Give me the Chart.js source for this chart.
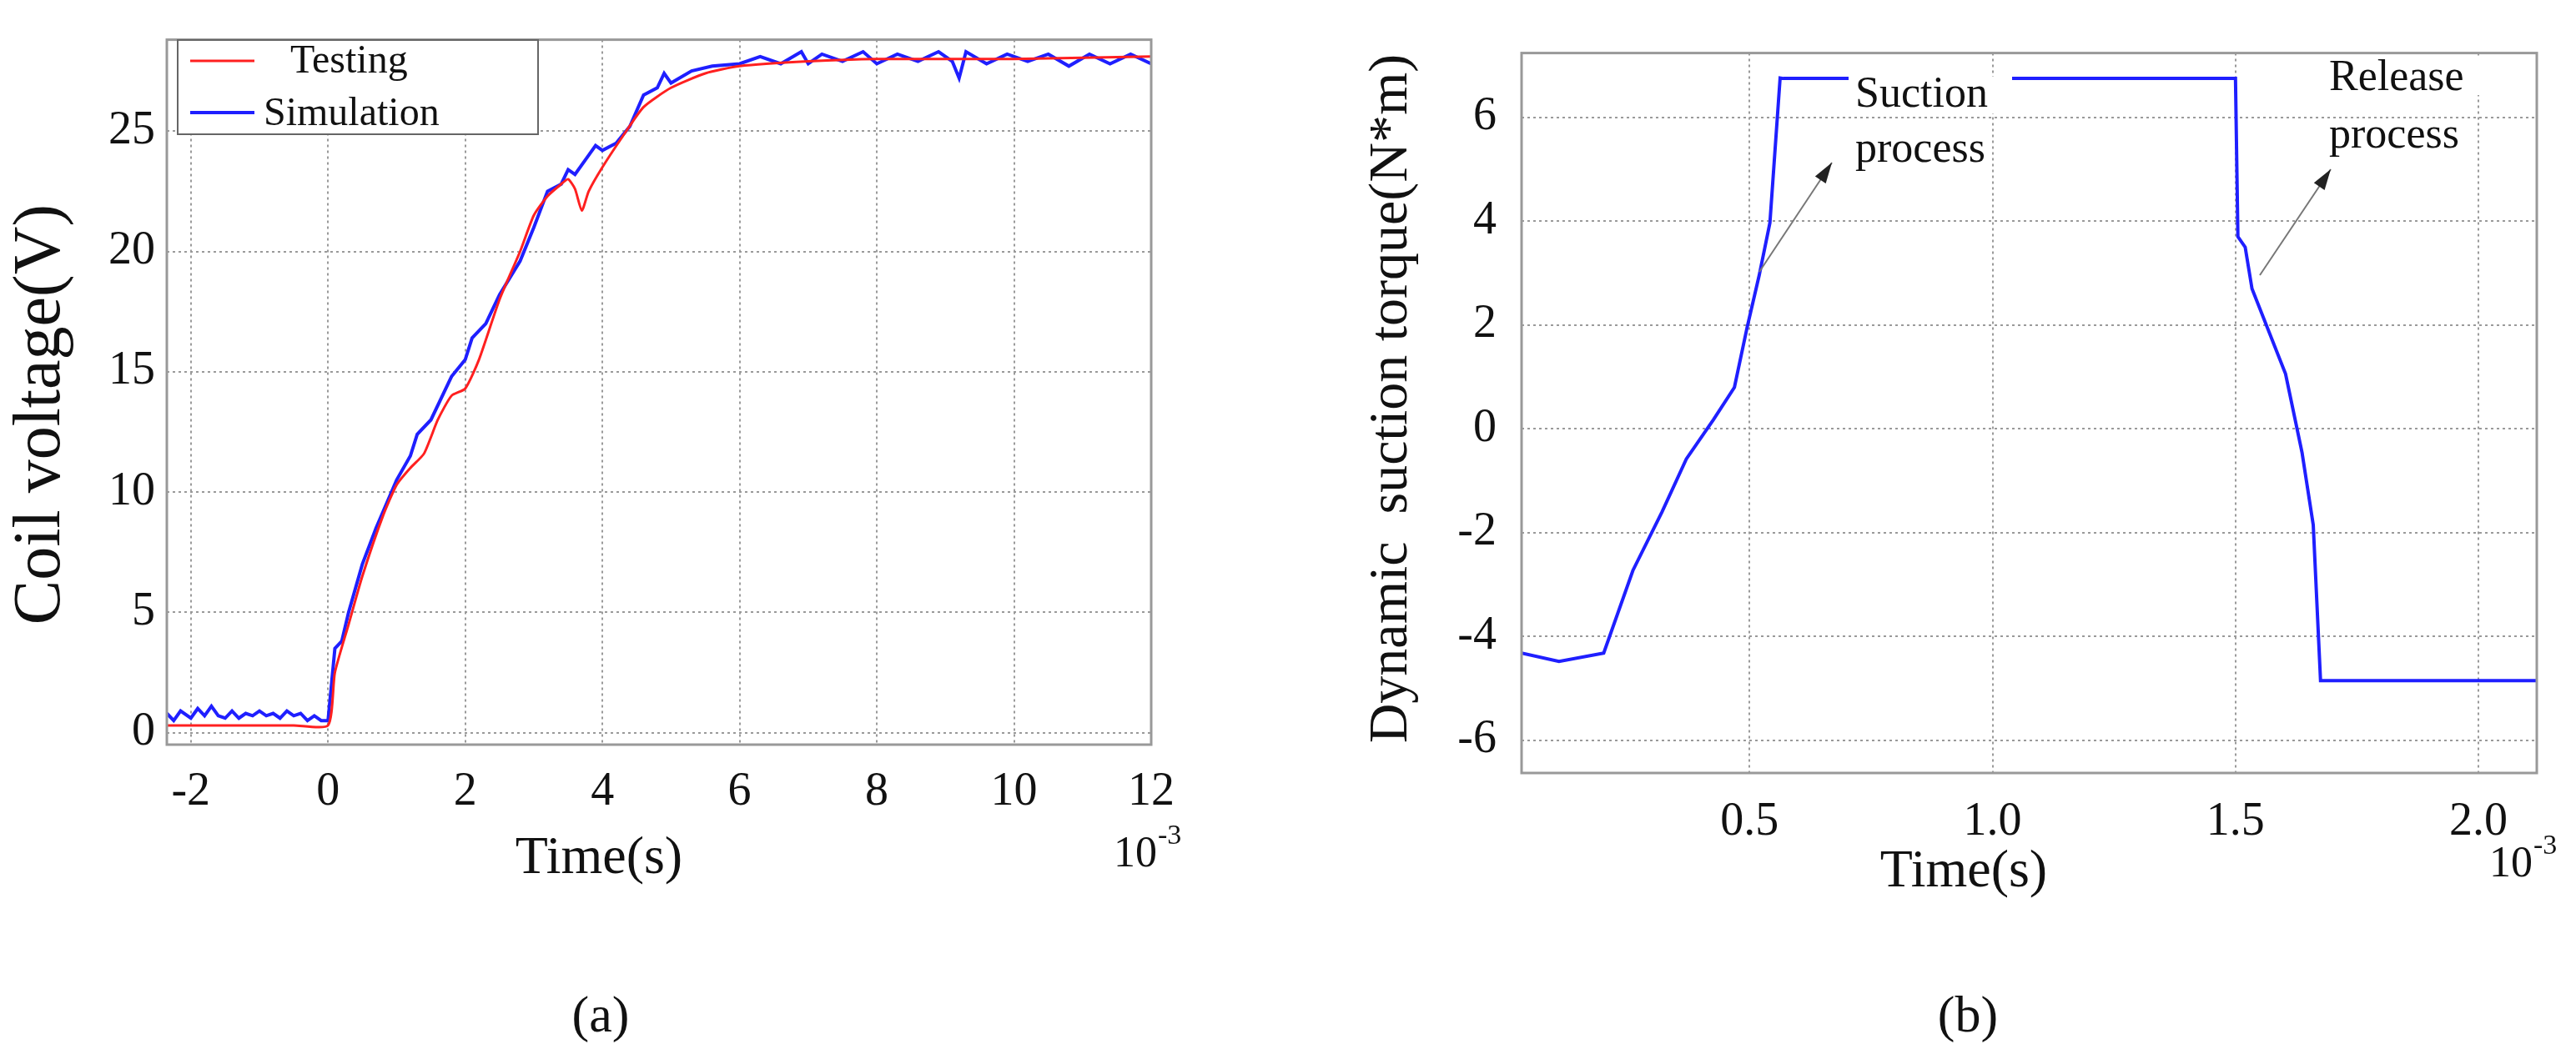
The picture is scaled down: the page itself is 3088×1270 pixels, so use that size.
<!DOCTYPE html>
<html>
<head>
<meta charset="utf-8">
<script src="https://cdn.jsdelivr.net/npm/chart.js@4/dist/chart.umd.min.js"></script>
<style>
  html, body { margin: 0; padding: 0; background: #fff; overflow: hidden; }
  #wrap { position: relative; width: 3088px; height: 1270px; }
  .box { position: absolute; top: 0; width: 1544px; height: 1270px; }
</style>
</head>
<body>
<div id="wrap">
  <div class="box" style="left:0"><canvas id="chartA"></canvas></div>
  <div class="box" style="left:1544px"><canvas id="chartB"></canvas></div>
</div>
<script>
// (a) coil voltage, time in 1e-3 s
const testX = [-2.35, -1.8, -1, -0.5, 0, 0.1, 0.3, 0.5, 0.8, 1.0, 1.2, 1.4, 1.6, 1.8, 2.0, 2.2, 2.5, 2.8, 3.0, 3.2, 3.4, 3.5, 3.6, 3.7, 3.8, 4.0, 4.3, 4.6, 5.0, 5.5, 6.0, 7.0, 8.0, 10.0, 12.0];
const testY = [0.3, 0.3, 0.3, 0.3, 0.3, 2.5, 4.5, 6.5, 9.0, 10.3, 11.0, 11.6, 13.0, 14.0, 14.3, 15.5, 18.0, 20.0, 21.5, 22.3, 22.8, 23.0, 22.6, 21.7, 22.5, 23.5, 24.8, 26.0, 26.8, 27.4, 27.7, 27.9, 28.0, 28.0, 28.1];
const simX = [-2.35, -2.25, -2.15, -2.0, -1.9, -1.8, -1.7, -1.6, -1.5, -1.4, -1.3, -1.2, -1.1, -1.0, -0.9, -0.8, -0.7, -0.6, -0.5, -0.4, -0.3, -0.2, -0.1, 0, 0.1, 0.2, 0.3, 0.5, 0.7, 1.0, 1.2, 1.3, 1.5, 1.7, 1.8, 2.0, 2.1, 2.3, 2.5, 2.8, 3.0, 3.2, 3.4, 3.5, 3.6, 3.8, 3.9, 4.0, 4.2, 4.4, 4.6, 4.8, 4.9, 5.0, 5.3, 5.6, 6.0, 6.3, 6.6, 6.9, 7.0, 7.2, 7.5, 7.8, 8.0, 8.3, 8.6, 8.9, 9.1, 9.2, 9.3, 9.6, 9.9, 10.2, 10.5, 10.8, 11.1, 11.4, 11.7, 12.0];
const simY = [0.8, 0.5, 0.9, 0.6, 1.0, 0.7, 1.1, 0.7, 0.6, 0.9, 0.6, 0.8, 0.7, 0.9, 0.7, 0.8, 0.6, 0.9, 0.7, 0.8, 0.5, 0.7, 0.5, 0.5, 3.5, 3.8, 5.0, 7.0, 8.5, 10.5, 11.5, 12.4, 13.0, 14.2, 14.8, 15.5, 16.4, 17.0, 18.2, 19.6, 21.0, 22.5, 22.8, 23.4, 23.2, 24.0, 24.4, 24.2, 24.5, 25.2, 26.5, 26.8, 27.4, 27.0, 27.5, 27.7, 27.8, 28.1, 27.8, 28.3, 27.8, 28.2, 27.9, 28.3, 27.8, 28.2, 27.9, 28.3, 27.9, 27.2, 28.3, 27.8, 28.2, 27.9, 28.2, 27.7, 28.2, 27.8, 28.2, 27.8];

// (b) dynamic suction torque
const torqueX = [0.031, 0.108, 0.2, 0.26, 0.32, 0.37, 0.426, 0.469, 0.495, 0.52, 0.542, 0.563, 0.57, 1.5, 1.505, 1.52, 1.534, 1.603, 1.637, 1.66, 1.675, 2.12];
const torqueY = [-4.32, -4.48, -4.32, -2.73, -1.6, -0.58, 0.18, 0.8, 1.95, 2.96, 3.97, 6.76, 6.75, 6.75, 3.7, 3.5, 2.7, 1.06, -0.46, -1.85, -4.85, -4.85];

const ticksA = [-2, 0, 2, 4, 6, 8, 10, 12];
const yTicksA = [0, 5, 10, 15, 20, 25];
const ticksB = [0.5, 1.0, 1.5, 2.0];
const yTicksB = [-6, -4, -2, 0, 2, 4, 6];

const serif = '"Liberation Serif", "DejaVu Serif", serif';
const pts = (xs, ys) => xs.map((x, i) => ({x: x, y: ys[i]}));

function textPlugin(draw) {
  return {
    id: 'txt',
    afterDraw: chart => {
      const c = chart.ctx, a = chart.chartArea;
      c.save();
      c.strokeStyle = '#999'; c.lineWidth = 3; c.setLineDash([]);
      c.strokeRect(a.left, a.top, a.right - a.left, a.bottom - a.top);
      draw(c, chart);
      c.restore();
    }
  };
}

function arrow(c, x1, y1, x2, y2) {
  c.strokeStyle = '#777'; c.fillStyle = '#222'; c.lineWidth = 2;
  c.beginPath(); c.moveTo(x1, y1); c.lineTo(x2, y2); c.stroke();
  const a = Math.atan2(y2 - y1, x2 - x1);
  c.beginPath();
  c.moveTo(x2, y2);
  c.lineTo(x2 - 26 * Math.cos(a - 0.3), y2 - 26 * Math.sin(a - 0.3));
  c.lineTo(x2 - 26 * Math.cos(a + 0.3), y2 - 26 * Math.sin(a + 0.3));
  c.closePath(); c.fill();
}

function baseOptions(xr, yr, xt, yt, yPad, xPad, yWidth, xHeight, padRight, padTop, fmt) {
  const grid = { color: '#9a9a9a', lineWidth: 2, drawTicks: false };
  return {
    responsive: true, maintainAspectRatio: false, animation: false, devicePixelRatio: 1,
    layout: { padding: { left: 0, right: padRight, top: padTop, bottom: 0 } },
    plugins: { legend: { display: false }, tooltip: { enabled: false } },
    scales: {
      x: {
        type: 'linear', min: xr[0], max: xr[1], afterFit: s => { s.height = xHeight; },
        afterBuildTicks: s => { s.ticks = xt.map(v => ({value: v})); },
        grid: Object.assign({}, grid), border: { display: false, dash: [3, 4] },
        ticks: { font: { family: serif, size: 56 }, color: '#111', padding: xPad, maxRotation: 0, callback: fmt }
      },
      y: {
        type: 'linear', min: yr[0], max: yr[1], afterFit: s => { s.width = yWidth; },
        afterBuildTicks: s => { s.ticks = yt.map(v => ({value: v})); },
        grid: Object.assign({}, grid), border: { display: false, dash: [3, 4] },
        ticks: { font: { family: serif, size: 56 }, color: '#111', padding: yPad }
      }
    }
  };
}

// chart (a)
new Chart(document.getElementById('chartA'), {
  type: 'line',
  data: {
    datasets: [
      { label: 'Testing', data: pts(testX, testY), borderColor: '#ff2020', borderWidth: 3, pointRadius: 0, tension: 0.2 },
      { label: 'Simulation', data: pts(simX, simY), borderColor: '#1f1fff', borderWidth: 4, pointRadius: 0, tension: 0 }
    ]
  },
  options: baseOptions([-2.35, 12], [-0.5, 28.8], ticksA, yTicksA, 14, 24, 200, 377, 164, 28, v => String(v)),
  plugins: [textPlugin((c, ch) => {
    c.fillStyle = '#fff'; c.strokeStyle = '#666'; c.lineWidth = 2;
    c.fillRect(213, 48, 432, 113); c.strokeRect(213, 48, 432, 113);
    c.lineWidth = 3; c.strokeStyle = '#ff2020';
    c.beginPath(); c.moveTo(228, 73); c.lineTo(305, 73); c.stroke();
    c.lineWidth = 4; c.strokeStyle = '#1f1fff';
    c.beginPath(); c.moveTo(228, 135); c.lineTo(305, 135); c.stroke();
    c.fillStyle = '#111'; c.font = '48px ' + serif; c.textBaseline = 'middle'; c.textAlign = 'left';
    c.fillText('Testing', 348, 74); c.fillText('Simulation', 316, 137);
    c.font = '64px ' + serif; c.textAlign = 'center';
    c.fillText('Time(s)', 718, 1030);
    c.font = '52px ' + serif; c.textAlign = 'left';
    c.fillText('10', 1335, 1025);
    c.font = '34px ' + serif; c.fillText('-3', 1388, 1003);
    c.font = '62px ' + serif; c.textAlign = 'center';
    c.fillText('(a)', 720, 1221);
    c.save(); c.translate(50, 497); c.rotate(-Math.PI / 2);
    c.font = '80px ' + serif; c.fillText('Coil voltage(V)', 0, 0); c.restore();
  })]
});

// chart (b)
new Chart(document.getElementById('chartB'), {
  type: 'line',
  data: {
    datasets: [
      { label: 'Torque', data: pts(torqueX, torqueY), borderColor: '#1f1fff', borderWidth: 4, pointRadius: 0, tension: 0 }
    ]
  },
  options: baseOptions([0.031, 2.12], [-6.63, 7.24], ticksB, yTicksB, 30, 26, 280, 343, 47, 20, v => v.toFixed(1)),
  plugins: [textPlugin((c, ch) => {
    c.fillStyle = '#fff';
    c.fillRect(672, 92, 196, 44);
    c.fillRect(1240, 70, 196, 44);
    c.fillStyle = '#111'; c.font = '52px ' + serif; c.textAlign = 'left'; c.textBaseline = 'middle';
    c.fillText('Suction', 680, 114); c.fillText('process', 680, 180);
    c.fillText('Release', 1248, 94); c.fillText('process', 1248, 163);
    arrow(c, 565, 326, 652, 195);
    arrow(c, 1165, 330, 1250, 203);
    c.fillStyle = '#111'; c.textAlign = 'center';
    c.font = '64px ' + serif; c.fillText('Time(s)', 810, 1046);
    c.font = '52px ' + serif; c.textAlign = 'left'; c.fillText('10', 1440, 1037);
    c.font = '34px ' + serif; c.fillText('-3', 1493, 1015);
    c.font = '62px ' + serif; c.textAlign = 'center'; c.fillText('(b)', 815, 1221);
    c.save(); c.translate(125, 478); c.rotate(-Math.PI / 2);
    c.font = '66px ' + serif; c.fillText('Dynamic  suction torque(N*m)', 0, 0); c.restore();
  })]
});
</script>
</body>
</html>
